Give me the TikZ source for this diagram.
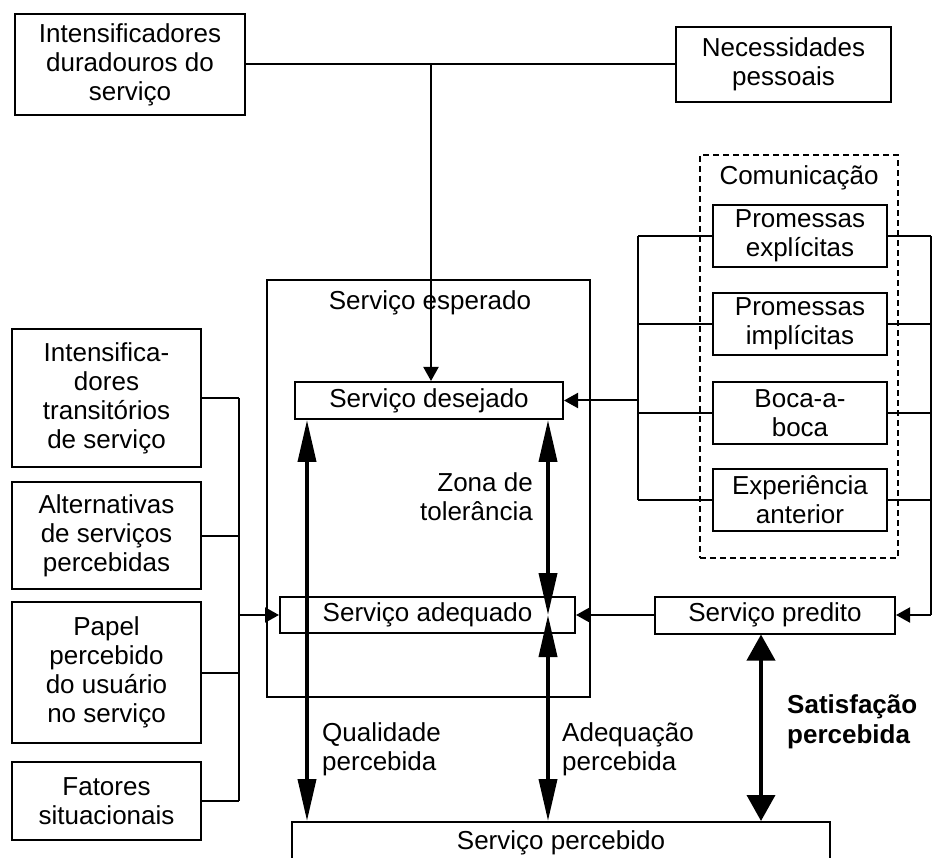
\documentclass[tikz,border=0pt]{standalone}
\usepackage{fontspec}
\setmainfont{Liberation Sans}
\usetikzlibrary{arrows.meta}
\begin{document}
\begin{tikzpicture}[x=1pt,y=-1pt,
  font=\fontsize{26}{29}\selectfont,
  box/.style={draw, line width=2pt, inner sep=0pt, align=center},
  commbox/.style={draw, line width=2pt, dash pattern=on 6pt off 4pt, inner sep=0pt},
  link/.style={line width=2pt},
  feed/.style={line width=2pt, -{Triangle[length=14pt,width=15pt]}},
  band/.style={line width=3.8pt, {Triangle[length=42pt,width=18pt]}-{Triangle[length=42pt,width=18pt]}},
  wideband/.style={line width=3.8pt, {Triangle[length=26pt,width=28pt]}-{Triangle[length=26pt,width=28pt]}},
  label/.style={inner sep=0pt}
]
% canvas
\fill[white] (0,0) rectangle (935,858);
\useasboundingbox (0,0) rectangle (935,858);
\clip (0,0) rectangle (935,858);

% top sources
\node[box, minimum width=230pt, minimum height=101pt] (dur) at (130,64.5) {Intensificadores\\duradouros do\\servi\c{c}o};
\node[box, minimum width=215pt, minimum height=75pt] (nec) at (783.5,64.5) {Necessidades\\pessoais};

% communication group
\node[commbox, minimum width=198pt, minimum height=403pt] (comm) at (799,356.5) {};
\node[label] (commlbl) at (799,178) {Comunica\c{c}\~ao};
\node[box, minimum width=174pt, minimum height=62pt] (pexp) at (800,236) {Promessas\\expl\'icitas};
\node[box, minimum width=174pt, minimum height=62pt] (pimp) at (800,324) {Promessas\\impl\'icitas};
\node[box, minimum width=174pt, minimum height=62pt] (boca) at (800,413) {Boca-a-\\boca};
\node[box, minimum width=174pt, minimum height=62pt] (exper) at (800,500) {Experi\^encia\\anterior};

% expected service
\node[box, minimum width=323pt, minimum height=417pt] (esperado) at (428.5,488.5) {};
\node[label] (esplbl) at (430,303) {Servi\c{c}o esperado};
\node[box, minimum width=268pt, minimum height=37pt] (desejado) at (429,400.5) {Servi\c{c}o desejado};
\node[box, minimum width=295pt, minimum height=36pt] (adequado) at (427.5,615) {Servi\c{c}o adequado};
\node[box, minimum width=240pt, minimum height=37pt] (predito) at (775,615) {Servi\c{c}o predito};
\node[box, minimum width=538pt, minimum height=56pt, text depth=0pt] (percebido) at (561,850) {};
\node[label] (perclbl) at (561,843) {Servi\c{c}o percebido};

% left sources
\node[box, minimum width=189pt, minimum height=138pt] (intens) at (106.5,398) {Intensifica-\\dores\\transit\'orios\\de servi\c{c}o};
\node[box, minimum width=189pt, minimum height=107pt] (alt) at (106.5,535.5) {Alternativas\\de servi\c{c}os\\percebidas};
\node[box, minimum width=189pt, minimum height=141pt] (papel) at (106.5,672.5) {Papel\\percebido\\do usu\'ario\\no servi\c{c}o};
\node[box, minimum width=189pt, minimum height=78pt] (fat) at (106.5,801) {Fatores\\situacionais};

% bracket rails
\coordinate (lb) at (239,0);
\coordinate (cl) at (638,0);
\coordinate (rb) at (931,0);
\coordinate (tj) at (431,64.5);

% top junction
\draw[link] (dur.east) -- (nec.west);
\draw[feed] (tj) -- (tj |- desejado.north);

% left bracket into adequate service
\draw[link] (intens.east) -- (intens.east -| lb);
\draw[link] (alt.east) -- (alt.east -| lb);
\draw[link] (papel.east) -- (papel.east -| lb);
\draw[link] (fat.east) -- (fat.east -| lb);
\draw[link] (intens.east -| lb) -- (fat.east -| lb);
\draw[feed] (adequado.west -| lb) -- (adequado.west);

% communication into desired service
\draw[link] (pexp.west) -- (pexp.west -| cl);
\draw[link] (pimp.west) -- (pimp.west -| cl);
\draw[link] (boca.west) -- (boca.west -| cl);
\draw[link] (exper.west) -- (exper.west -| cl);
\draw[link] (pexp.west -| cl) -- (exper.west -| cl);
\draw[feed] (desejado.east -| cl) -- (desejado.east);

% communication into predicted service
\draw[link] (pexp.east) -- (pexp.east -| rb);
\draw[link] (pimp.east) -- (pimp.east -| rb);
\draw[link] (boca.east) -- (boca.east -| rb);
\draw[link] (exper.east) -- (exper.east -| rb);
\draw[link] (pexp.east -| rb) -- (predito.east -| rb);
\draw[feed] (predito.east -| rb) -- (predito.east);
\draw[feed] (predito.west) -- (adequado.east);

% perception gaps
\coordinate (qx) at (307,0);
\coordinate (mx) at (548,0);
\coordinate (sx) at (761,0);
\draw[band] (desejado.south -| qx) -- (percebido.north -| qx);
\draw[band] (desejado.south -| mx) -- (adequado.center -| mx);
\draw[band] (adequado.center -| mx) -- (percebido.north -| mx);
\draw[wideband] (predito.south -| sx) -- (percebido.north -| sx);

% gap labels
\node[label, anchor=east, align=right] (zona) at (533,497) {Zona de\\toler\^ancia};
\node[label, anchor=west, align=left] (qual) at (322,749) {Qualidade\\percebida};
\node[label, anchor=west, align=left] (adeq) at (562,749) {Adequa\c{c}\~ao\\percebida};
\node[label, anchor=west, align=left, font=\fontsize{26}{30}\selectfont\bfseries] (sat) at (787,722) {Satisfa\c{c}\~ao\\percebida};
\end{tikzpicture}
\end{document}
